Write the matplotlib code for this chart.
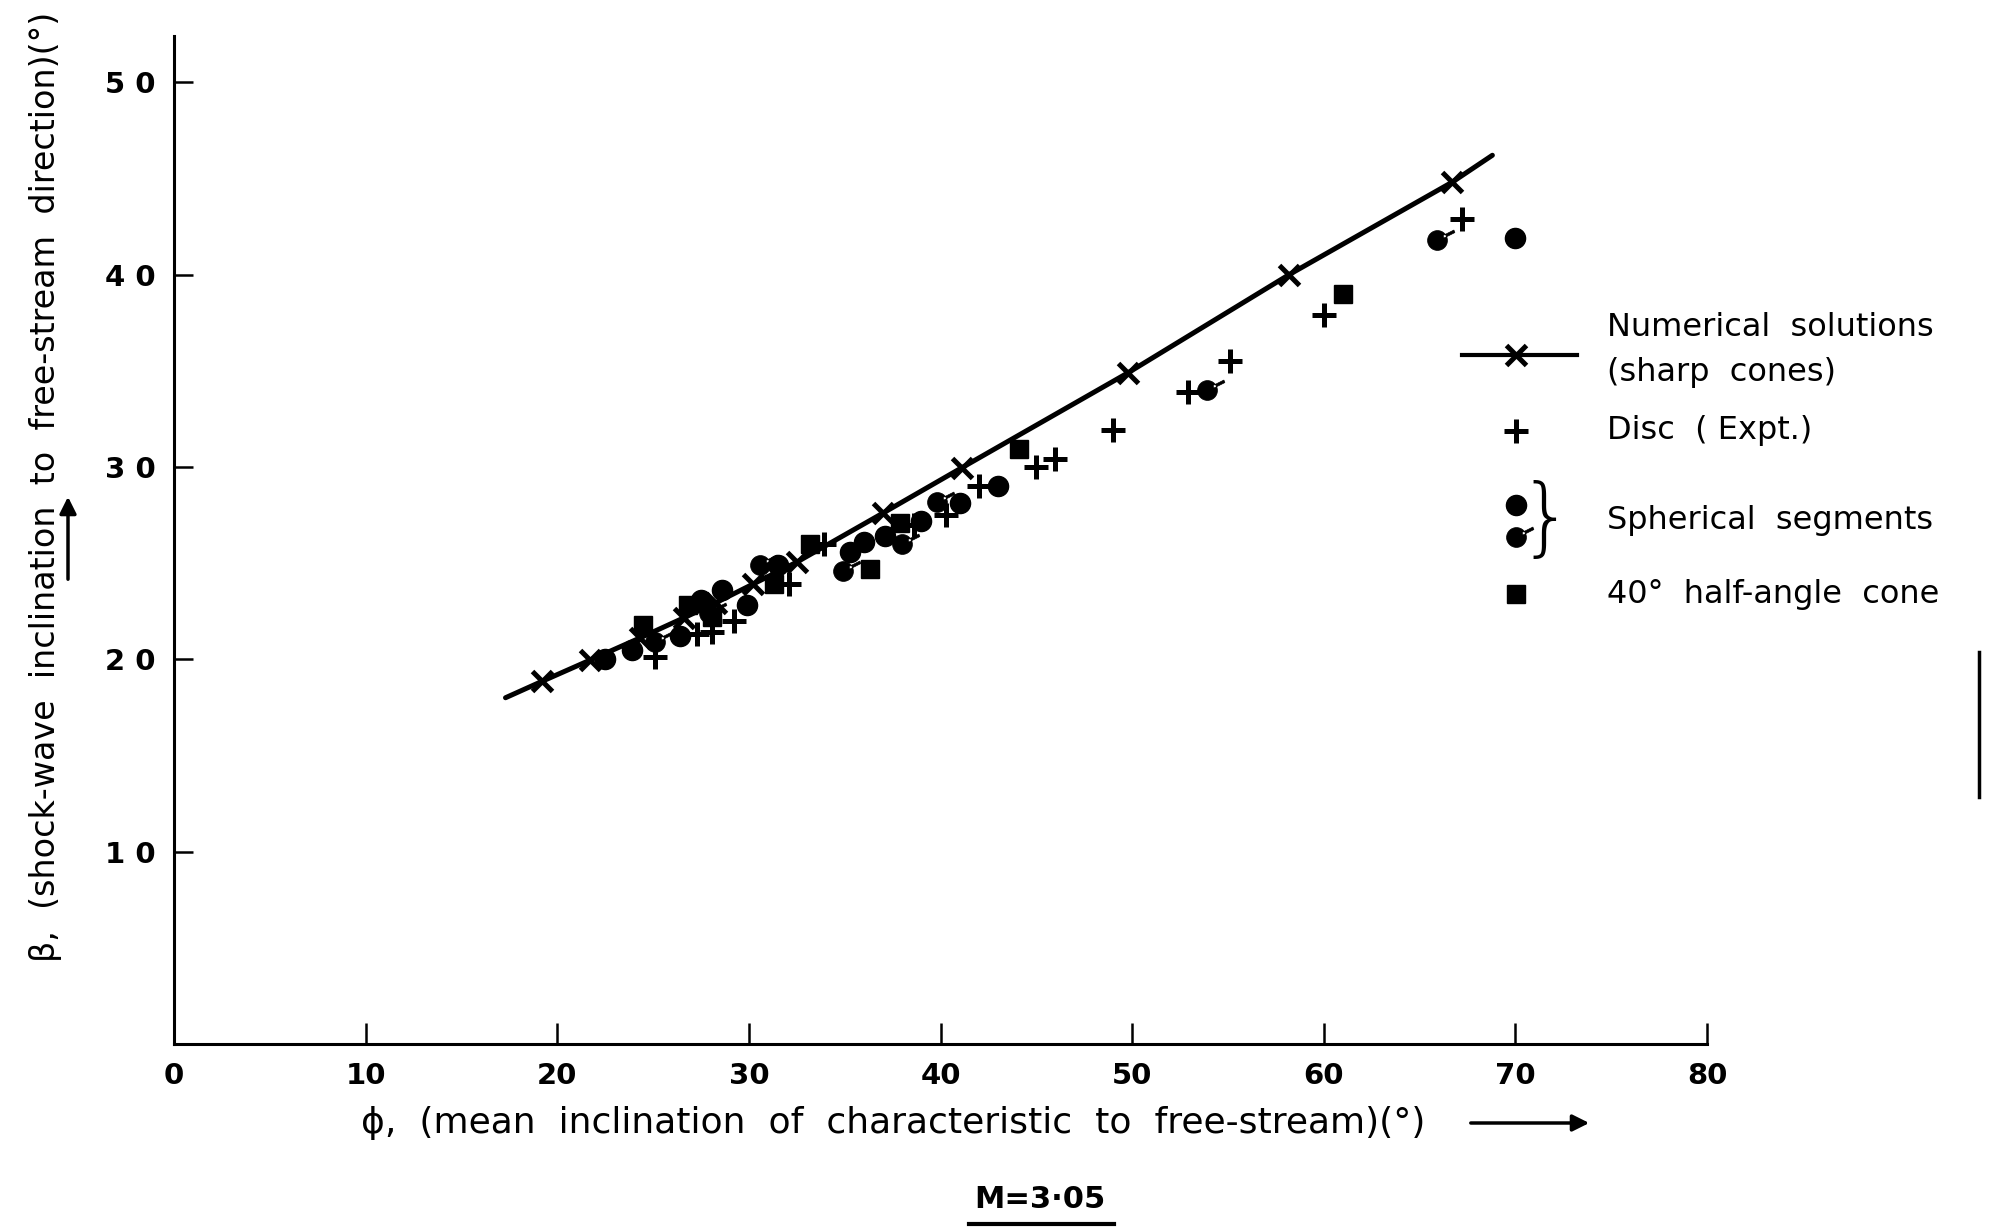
import matplotlib
matplotlib.use("Agg")
import matplotlib.pyplot as plt
from matplotlib.path import Path
from matplotlib.lines import Line2D

# ---------------- data (phi, beta in degrees) ----------------
line_phi = [17.3, 19.2, 21.7, 24.3, 26.6, 28.3, 30.2, 32.5, 37.0, 41.1, 49.8, 58.2, 66.7, 68.8]
line_beta = [18.0, 18.85, 19.95, 21.1, 22.15, 22.95, 23.9, 25.05, 27.6, 29.95, 34.9, 40.0, 44.8, 46.2]

num_phi = [19.2, 21.7, 24.3, 26.6, 28.3, 30.2, 32.5, 37.0, 41.1, 49.8, 58.2, 66.7]
num_beta = [18.85, 19.95, 21.1, 22.15, 22.95, 23.9, 25.05, 27.6, 29.95, 34.9, 40.0, 44.8]

disc_phi = [25.1, 27.3, 28.1, 29.2, 32.1, 33.9, 38.6, 40.3, 42.0, 45.0, 46.0, 49.0, 52.9, 55.1, 60.0, 67.2]
disc_beta = [20.1, 21.3, 21.4, 22.0, 23.9, 26.0, 27.0, 27.5, 29.0, 30.0, 30.4, 31.9, 33.9, 35.5, 37.9, 42.9]

sph_phi = [22.5, 23.9, 26.4, 27.5, 28.6, 29.9, 31.5, 35.3, 36.0, 37.1, 39.0, 41.0, 43.0, 70.0]
sph_beta = [20.0, 20.5, 21.2, 23.1, 23.6, 22.8, 24.9, 25.6, 26.1, 26.4, 27.2, 28.1, 29.0, 41.9]

sph2_phi = [25.1, 27.9, 30.6, 34.9, 38.0, 39.8, 53.9, 65.9]
sph2_beta = [20.9, 22.4, 24.9, 24.6, 26.0, 28.2, 34.0, 41.8]

cone_phi = [24.5, 26.8, 28.1, 31.3, 33.2, 36.3, 37.9, 44.1, 61.0]
cone_beta = [21.8, 22.8, 22.2, 23.9, 26.0, 24.7, 27.1, 30.95, 39.0]

x_ticks = [0, 10, 20, 30, 40, 50, 60, 70, 80]
x_ticklabels = ['0', '10', '20', '30', '40', '50', '60', '70', '80']
y_ticks = [10, 20, 30, 40, 50]
y_ticklabels = ['1 0', '2 0', '3 0', '4 0', '5 0']

# ---------------- figure ----------------
W, H = 1994, 1228
fig = plt.figure(figsize=(W / 100, H / 100), dpi=100)
fig.patch.set_facecolor('white')
ax = fig.add_axes([174 / W, 1 - 1044 / H, (1707 - 174) / W, (1044 - 36) / H])
ax.set_xlim(0, 80)
ax.set_ylim(0, 52.4)

FONT = 'DejaVu Sans'
K = 'black'

# tailed circle marker
circle = Path.unit_circle()
tail = Path([(0.55, 0.5), (1.65, 1.05), (1.75, 0.8), (0.65, 0.25), (0.55, 0.5)],
            [Path.MOVETO, Path.LINETO, Path.LINETO, Path.LINETO, Path.CLOSEPOLY])
tailed = Path.make_compound_path(circle, tail)

ax.plot(line_phi, line_beta, color=K, lw=3.6, solid_capstyle='round', zorder=2)
ax.plot(num_phi, num_beta, ls='none', marker='x', ms=14, mew=3.6, color=K, zorder=3)
ax.plot(disc_phi, disc_beta, ls='none', marker='+', ms=17, mew=3.6, color=K, zorder=3)
ax.plot(sph_phi, sph_beta, ls='none', marker='o', ms=14.5, color=K, mec=K, zorder=3)
ax.plot(sph2_phi, sph2_beta, ls='none', marker=tailed, ms=25, color=K, mec=K, mew=0.5, zorder=3)
ax.plot(cone_phi, cone_beta, ls='none', marker='s', ms=12.5, color=K, mec=K, zorder=3)

# axes styling
for s in ['top', 'right']:
    ax.spines[s].set_visible(False)
for s in ['left', 'bottom']:
    ax.spines[s].set_linewidth(2.2)
ax.set_xticks(x_ticks)
ax.set_xticklabels(x_ticklabels, fontsize=21, fontfamily=FONT, fontweight='bold')
ax.set_yticks(y_ticks)
ax.set_yticklabels(y_ticklabels, fontsize=21, fontfamily=FONT, fontweight='bold')
ax.tick_params(axis='x', direction='in', length=15, width=1.8, pad=13)
ax.tick_params(axis='y', direction='in', length=14, width=1.8, pad=13)

def fx(px):
    return px / W

def fy(py):
    return 1 - py / H

# axis labels
fig.text(fx(893), fy(1123),
         '\u03d5,  (mean  inclination  of  characteristic  to  free-stream)(\u00b0)',
         ha='center', va='center', fontsize=26, fontfamily=FONT)
ax.annotate('', xy=(fx(1592), fy(1123)), xytext=(fx(1468), fy(1123)),
            xycoords='figure fraction', textcoords='figure fraction',
            arrowprops=dict(arrowstyle='-|>', color=K, lw=2.5, mutation_scale=25))
fig.text(fx(46), fy(487),
         '\u03b2,  (shock-wave  inclination  to  free-stream  direction)(\u00b0)',
         ha='center', va='center', rotation=90, fontsize=24, fontfamily=FONT)
ax.annotate('', xy=(fx(68), fy(494)), xytext=(fx(68), fy(582)),
            xycoords='figure fraction', textcoords='figure fraction',
            arrowprops=dict(arrowstyle='-|>', color=K, lw=2.5, mutation_scale=25))

# Mach number caption
fig.text(fx(1040), fy(1200), 'M=3\u00b705', ha='center', va='center',
         fontsize=22, fontfamily=FONT, fontweight='bold')
fig.add_artist(Line2D([fx(969), fx(1114)], [fy(1224), fy(1224)],
                      transform=fig.transFigure, color=K, lw=3))

# legend (drawn manually)
lx, tx = 1516, 1607
LFS = 23
fig.add_artist(Line2D([fx(1462), fx(1577)], [fy(355), fy(355)],
                      transform=fig.transFigure, color=K, lw=3))
fig.add_artist(Line2D([fx(lx)], [fy(355)], transform=fig.transFigure, ls='none',
                      marker='x', ms=14, mew=3.6, color=K))
fig.text(fx(tx), fy(328), 'Numerical  solutions', ha='left', va='center',
         fontsize=LFS, fontfamily=FONT)
fig.text(fx(tx), fy(373), '(sharp  cones)', ha='left', va='center',
         fontsize=LFS, fontfamily=FONT)
fig.add_artist(Line2D([fx(lx)], [fy(431)], transform=fig.transFigure, ls='none',
                      marker='+', ms=17, mew=3.6, color=K))
fig.text(fx(tx), fy(431), 'Disc  ( Expt.)', ha='left', va='center',
         fontsize=LFS, fontfamily=FONT)
fig.add_artist(Line2D([fx(lx)], [fy(505)], transform=fig.transFigure, ls='none',
                      marker='o', ms=14.5, color=K))
fig.add_artist(Line2D([fx(lx)], [fy(537)], transform=fig.transFigure, ls='none',
                      marker=tailed, ms=25, color=K, mew=0.5))
fig.text(fx(1546), fy(521), '}', ha='center', va='center',
         fontsize=62, fontfamily=FONT, fontweight='light')
fig.text(fx(tx), fy(520), 'Spherical  segments', ha='left', va='center',
         fontsize=LFS, fontfamily=FONT)
fig.add_artist(Line2D([fx(lx)], [fy(594)], transform=fig.transFigure, ls='none',
                      marker='s', ms=12.5, color=K))
fig.text(fx(tx), fy(594), '40\u00b0  half-angle  cone', ha='left', va='center',
         fontsize=LFS, fontfamily=FONT)

# scan edge mark at right
fig.add_artist(Line2D([fx(1979), fx(1979)], [fy(652), fy(797)],
                      transform=fig.transFigure, color=K, lw=2.5))

fig.savefig('out.png', dpi=100, facecolor='white')
